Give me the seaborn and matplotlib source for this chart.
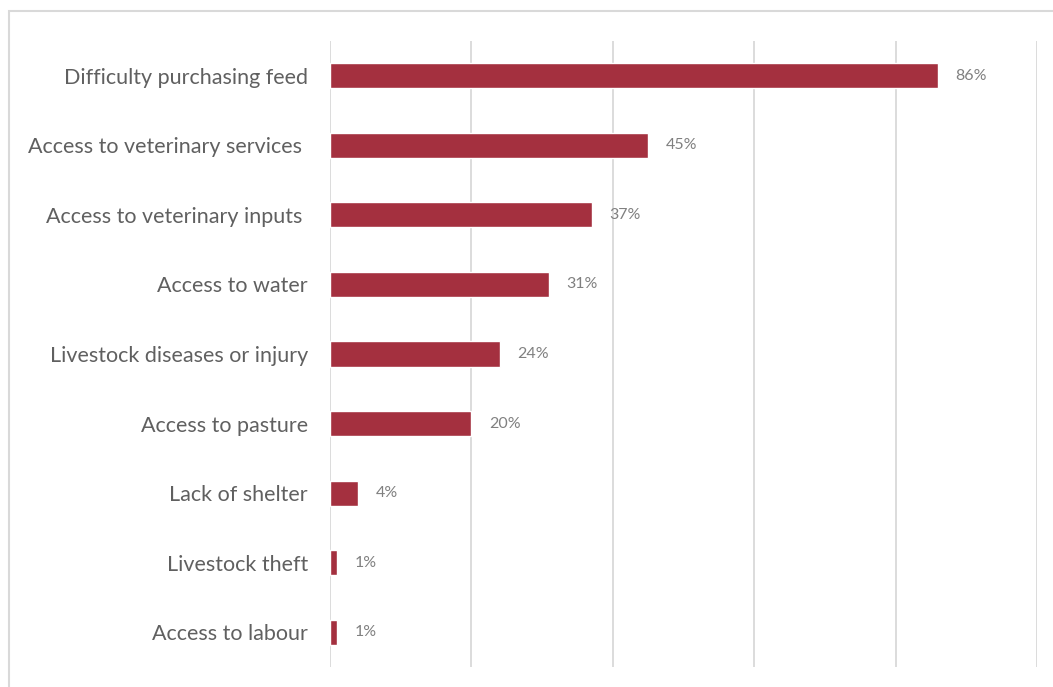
import matplotlib
matplotlib.use("Agg")
import matplotlib.pyplot as plt
from matplotlib.patches import Rectangle
import seaborn as sns
import pandas as pd

categories = [
    "Difficulty purchasing feed",
    "Access to veterinary services ",
    "Access to veterinary inputs ",
    "Access to water",
    "Livestock diseases or injury",
    "Access to pasture",
    "Lack of shelter",
    "Livestock theft",
    "Access to labour",
]
shares = [86, 45, 37, 31, 24, 20, 4, 1, 1]
x_ticks = [0, 20, 40, 60, 80, 100]

bar_color = "#A4303F"
label_color = "#606060"
value_color = "#808080"
grid_color = "#D9D9D9"

sns.set_theme(style="white")
plt.rcParams["font.family"] = ["Lato", "DejaVu Sans"]

df = pd.DataFrame({"category": categories, "share": shares})

fig = plt.figure(figsize=(10.53, 6.87), dpi=100)
ax = fig.add_axes([330 / 1053, 1 - 667 / 687, (1037 - 330) / 1053, (667 - 41) / 687])

sns.barplot(data=df, x="share", y="category", color=bar_color, width=0.36,
            saturation=1, ax=ax, orient="h")

ax.set_xlim(0, 100)
ax.set_ylim(len(categories) - 0.5, -0.5)
ax.set_xticks(x_ticks)
ax.xaxis.grid(True, color=grid_color, linewidth=1.3)
ax.set_axisbelow(True)
ax.tick_params(axis="x", labelbottom=False, length=0)
ax.tick_params(axis="y", length=0, pad=16, labelsize=15.5, labelcolor=label_color)
ax.set_xlabel("")
ax.set_ylabel("")
for s in ax.spines.values():
    s.set_visible(False)

for i, v in enumerate(shares):
    ax.annotate(f"{v}%", xy=(v, i), xytext=(12.5, 0), textcoords="offset points",
                va="center", ha="left", fontsize=11.5, color=value_color)

# outer chart border
fig.patches.append(Rectangle((9 / 1053, -0.05), 1.1, 1 - 11 / 687 + 0.05,
                             transform=fig.transFigure, fill=False,
                             edgecolor=grid_color, linewidth=1.5))

fig.savefig("out.png", dpi=100)
